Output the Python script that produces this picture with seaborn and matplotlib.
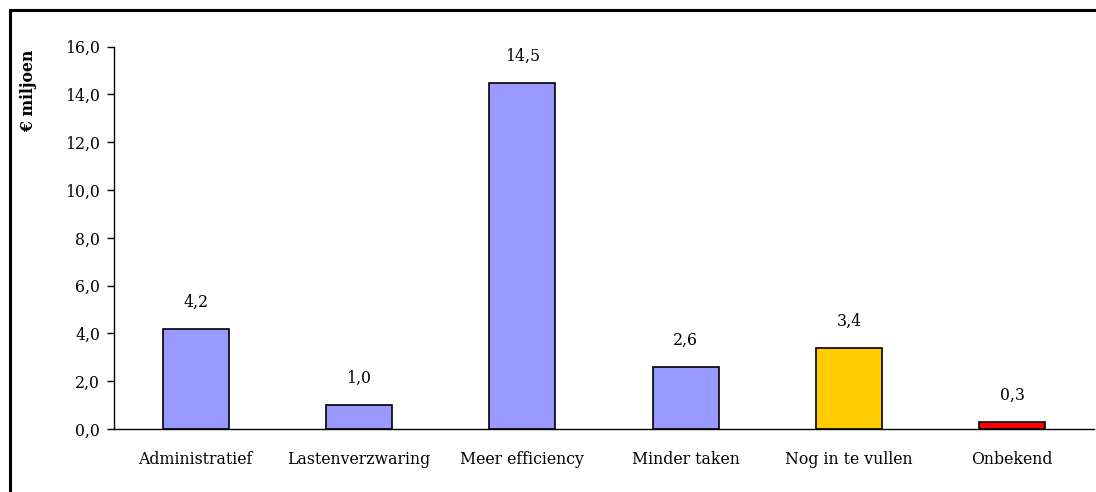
import numpy as np
import pandas as pd
import matplotlib.pyplot as plt
import seaborn as sns
from matplotlib.patches import Rectangle

# chart data
categories = ['Administratief', 'Lastenverzwaring', 'Meer efficiency',
              'Minder taken', 'Nog in te vullen', 'Onbekend']
values = [4.2, 1.0, 14.5, 2.6, 3.4, 0.3]
colors = ['#9999FF', '#9999FF', '#9999FF', '#9999FF', '#FFCC00', '#FF0000']
yticks = [0, 2, 4, 6, 8, 10, 12, 14, 16]

sns.set_style('white')
plt.rcParams['font.family'] = ['DejaVu Serif']
for key in ['text.color', 'axes.labelcolor', 'xtick.color', 'ytick.color']:
    plt.rcParams[key] = 'black'
fs = 11.3

df = pd.DataFrame({'categorie': categories, 'waarde': values})

fig = plt.figure(figsize=(10.96, 4.92), dpi=100)
ax = fig.add_axes([114 / 1096, 1 - 429 / 492, 980 / 1096, (429 - 46.7) / 492])

sns.barplot(data=df, x='categorie', y='waarde', hue='categorie',
            palette=colors, saturation=1, width=0.405, edgecolor='black',
            linewidth=1.2, legend=False, ax=ax)

# value labels
for i, v in enumerate(values):
    ax.text(i, v + 0.75, f'{v:.1f}'.replace('.', ','), ha='center', va='bottom',
            fontsize=fs)

ax.set_xlim(-0.5, len(categories) - 0.5)
ax.set_ylim(0, 16)
ax.set_yticks(yticks)
ax.set_yticklabels([f'{t:.1f}'.replace('.', ',') for t in yticks], fontsize=fs)
ax.set_xticks(range(len(categories)))
ax.set_xticklabels(categories, fontsize=fs)
ax.tick_params(axis='x', length=0, pad=16)
ax.tick_params(axis='y', length=5, width=1, direction='out', pad=5)
ax.yaxis.set_ticks_position('left')

# category separators on x axis
ax.set_xticks(np.arange(-0.5, len(categories)), minor=True)
ax.tick_params(axis='x', which='minor', length=5, width=1, direction='out')

ax.set_xlabel('')
ax.set_ylabel('€ miljoen', fontsize=fs, fontweight='bold')
ax.yaxis.set_label_coords(-0.0786, 0.884)

sns.despine(ax=ax, top=True, right=True)
for side in ['left', 'bottom']:
    ax.spines[side].set_color('black')
    ax.spines[side].set_linewidth(1)

# outer frame around the chart
fig.patches.append(Rectangle((10 / 1096, -0.05), 1.1, 1 - 10 / 492 + 0.05,
                             transform=fig.transFigure, fill=False,
                             edgecolor='black', linewidth=2.2))

fig.savefig('out.png', dpi=100)
